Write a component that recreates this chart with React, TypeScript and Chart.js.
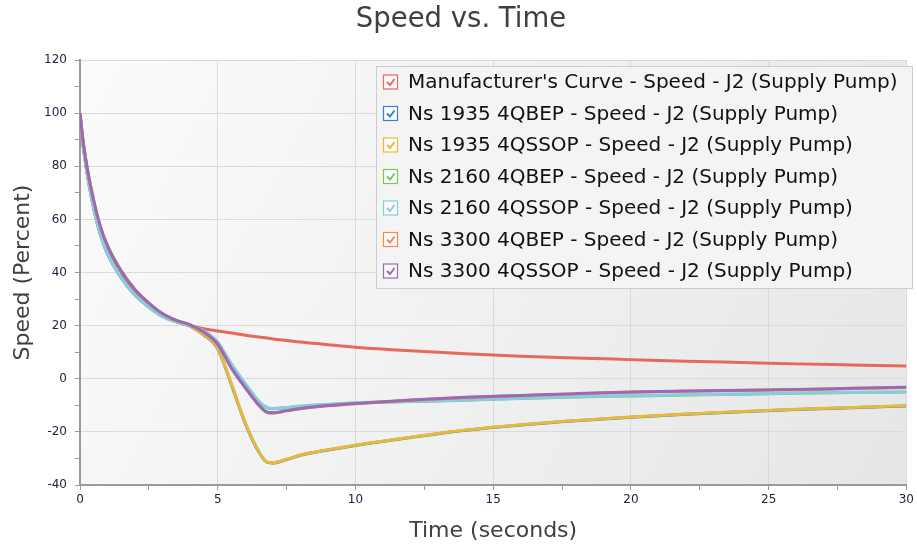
import React, { useEffect, useRef } from 'react';
import { Chart, registerables } from 'chart.js';

Chart.register(...registerables);

const times = [0, 0.1, 0.25, 0.5, 0.75, 1, 1.5, 2, 2.5, 3, 3.5, 4, 4.5, 5, 5.5, 6, 6.5, 6.8, 7, 7.5, 8, 9, 10, 12, 14, 16, 18, 20, 22, 24, 26, 28, 30];

const manufacturerCurve = [100, 90, 79.5, 65.5, 56, 48.5, 39, 32.5, 27.5, 24, 21.5, 20, 18.8, 18, 17.2, 16.4, 15.7, 15.3, 15, 14.4, 13.8, 12.8, 11.9, 10.5, 9.4, 8.5, 7.8, 7.2, 6.6, 6.1, 5.6, 5.2, 4.8];
const ns1935QBEP = [100, 89, 78, 64, 54, 47, 38, 31.5, 27, 23.5, 21.5, 19.8, 16.4, 11.3, -2.3, -16.8, -27.7, -31.5, -31.7, -30.4, -28.8, -26.8, -25.1, -22.1, -19.4, -17.4, -15.8, -14.5, -13.4, -12.4, -11.6, -10.9, -10.3];
const ns1935QSSOP = [100, 89, 78, 64, 54, 47, 38, 31.5, 27, 23.5, 21.5, 19.8, 16.5, 11.5, -2, -16.5, -27.5, -31.4, -31.6, -30.3, -28.7, -26.7, -25, -22, -19.3, -17.3, -15.7, -14.4, -13.3, -12.3, -11.5, -10.8, -10.2];
const ns2160QBEP = [100, 89, 78, 64, 54, 47, 38, 31.5, 27, 23.5, 21.5, 20, 18, 13.7, 5.3, -2, -8.7, -11, -11.3, -10.9, -10.4, -9.7, -9.1, -8.6, -8.1, -7.4, -6.9, -6.5, -6.1, -5.8, -5.5, -5.2, -5];
const ns2160QSSOP = [100, 89, 78, 64, 54, 47, 38, 31.5, 27, 23.5, 21.5, 20, 18, 13.8, 5.5, -1.8, -8.5, -10.9, -11.2, -10.8, -10.3, -9.6, -9, -8.5, -8, -7.3, -6.8, -6.4, -6, -5.7, -5.4, -5.1, -4.9];
const ns3300QBEP = [100, 90.5, 80, 67, 57, 50, 40.5, 33.5, 28.5, 24.5, 22, 20.3, 17.5, 12.9, 3.9, -3.4, -10.1, -12.7, -12.9, -12.1, -11.3, -10.2, -9.4, -8.1, -7.1, -6.4, -5.7, -5.1, -4.7, -4.4, -4.1, -3.7, -3.3];
const ns3300QSSOP = [100, 90.5, 80, 67, 57, 50, 40.5, 33.5, 28.5, 24.5, 22, 20.3, 17.5, 13, 4, -3.3, -10, -12.6, -12.8, -12, -11.2, -10.1, -9.3, -8, -7, -6.3, -5.6, -5, -4.6, -4.3, -4, -3.6, -3.2];

const seriesLabels = [
  "Manufacturer's Curve - Speed - J2 (Supply Pump)",
  'Ns 1935 4QBEP - Speed - J2 (Supply Pump)',
  'Ns 1935 4QSSOP - Speed - J2 (Supply Pump)',
  'Ns 2160 4QBEP - Speed - J2 (Supply Pump)',
  'Ns 2160 4QSSOP - Speed - J2 (Supply Pump)',
  'Ns 3300 4QBEP - Speed - J2 (Supply Pump)',
  'Ns 3300 4QSSOP - Speed - J2 (Supply Pump)',
];
const seriesColors = ['#e8685a', '#3b82c4', '#e8b93a', '#7cc45c', '#86cce6', '#f08a4e', '#9a6bb5'];

const titleText = 'Speed vs. Time';
const xTitle = 'Time (seconds)';
const yTitle = 'Speed (Percent)';

const FONT = "'DejaVu Sans', Tahoma, sans-serif";

export default function App() {
  const ref = useRef<HTMLCanvasElement>(null);

  useEffect(() => {
    if (!ref.current) return;
    const seriesData = [manufacturerCurve, ns1935QBEP, ns1935QSSOP, ns2160QBEP, ns2160QSSOP, ns3300QBEP, ns3300QSSOP];
    const datasets = seriesData.map((vals, i) => ({
      label: seriesLabels[i],
      data: times.map((t, j) => ({ x: t, y: vals[j] })),
      borderColor: seriesColors[i],
      backgroundColor: seriesColors[i],
      borderWidth: 3,
      pointRadius: 0,
      cubicInterpolationMode: 'monotone' as const,
      borderJoinStyle: 'round' as const,
      order: seriesData.length - i,
      fill: false,
    }));

    const bgPlugin = {
      id: 'plotBg',
      beforeDraw(chart: any) {
        const { ctx, chartArea: a, width, height } = chart;
        ctx.save();
        ctx.fillStyle = '#ffffff';
        ctx.fillRect(0, 0, width, height);
        const g = ctx.createLinearGradient(a.left, a.top, a.right, a.bottom);
        g.addColorStop(0, '#fbfbfb');
        g.addColorStop(1, '#e6e6e6');
        ctx.fillStyle = g;
        ctx.fillRect(a.left, a.top, a.right - a.left, a.bottom - a.top);
        ctx.restore();
      },
    };

    const titlePlugin = {
      id: 'centerTitle',
      afterDraw(chart: any) {
        const { ctx } = chart;
        ctx.save();
        ctx.font = `27.5px ${FONT}`;
        ctx.fillStyle = '#404040';
        ctx.textAlign = 'center';
        ctx.textBaseline = 'middle';
        ctx.fillText(titleText, 461, 20);
        ctx.restore();
      },
    };

    const legendPlugin = {
      id: 'boxLegend',
      afterDraw(chart: any) {
        const { ctx } = chart;
        const bx = 376.5, by = 66.5, bw = 536, bh = 222;
        ctx.save();
        ctx.fillStyle = '#f4f4f4';
        ctx.fillRect(bx, by, bw, bh);
        ctx.strokeStyle = '#cccccc';
        ctx.lineWidth = 1;
        ctx.strokeRect(bx, by, bw, bh);
        const rowH = 31.5;
        ctx.font = `20px ${FONT}`;
        ctx.textBaseline = 'middle';
        ctx.textAlign = 'left';
        seriesLabels.forEach((lab, i) => {
          const cy = 82 + i * rowH;
          const c = seriesColors[i];
          ctx.fillStyle = '#fafafa';
          ctx.fillRect(383.5, cy - 7, 14, 14);
          ctx.strokeStyle = c;
          ctx.lineWidth = 1.2;
          ctx.strokeRect(383.5, cy - 7, 14, 14);
          ctx.beginPath();
          ctx.moveTo(387, cy);
          ctx.lineTo(390, cy + 3);
          ctx.lineTo(394.5, cy - 3);
          ctx.lineWidth = 2;
          ctx.stroke();
          ctx.fillStyle = '#111111';
          ctx.fillText(lab, 408, cy + 1);
        });
        ctx.restore();
      },
    };

    const chart = new Chart(ref.current, {
      type: 'line',
      data: { datasets },
      options: {
        animation: false,
        responsive: false,
        layout: { padding: { left: 0, right: 10, top: 60, bottom: 0 } },
        plugins: {
          legend: { display: false },
          tooltip: { enabled: false },
          title: { display: false },
        },
        scales: {
          x: {
            type: 'linear',
            min: 0,
            max: 30,
            afterFit(scale: any) {
              scale.height = 65;
            },
            ticks: {
              stepSize: 2.5,
              autoSkip: false,
              maxRotation: 0,
              padding: 3,
              color: '#222244',
              font: { family: FONT, size: 12 },
              callback: (v: any) => (Number(v) % 5 === 0 ? String(v) : ''),
            },
            grid: {
              color: (c: any) => (c.tick && c.tick.value % 5 === 0 ? '#dadada' : 'rgba(0,0,0,0)'),
              tickColor: '#9a9a9a',
              tickLength: 5,
              lineWidth: 1,
            },
            border: { display: true, color: '#9a9a9a', width: 2 },
            title: {
              display: true,
              text: xTitle,
              color: '#404040',
              font: { family: FONT, size: 22 },
              padding: { top: 0, bottom: 6 },
            },
          },
          y: {
            type: 'linear',
            min: -40,
            max: 120,
            afterFit(scale: any) {
              scale.width = 80;
            },
            ticks: {
              stepSize: 10,
              autoSkip: false,
              padding: 8,
              color: '#222244',
              font: { family: FONT, size: 12 },
              callback: (v: any) => (Number(v) % 20 === 0 ? String(v) : ''),
            },
            grid: {
              color: (c: any) => (c.tick && c.tick.value % 20 === 0 ? '#dadada' : 'rgba(0,0,0,0)'),
              tickColor: '#9a9a9a',
              tickLength: 5,
              lineWidth: 1,
            },
            border: { display: true, color: '#9a9a9a', width: 2 },
            title: {
              display: true,
              text: yTitle,
              color: '#404040',
              font: { family: FONT, size: 22 },
              padding: { top: 10, bottom: 0 },
            },
          },
        },
      },
      plugins: [bgPlugin, titlePlugin, legendPlugin],
    } as any);

    return () => chart.destroy();
  }, []);

  return (
    <div style={{ position: 'absolute', left: 0, top: 0, width: 917, height: 550, background: '#ffffff' }}>
      <canvas ref={ref} width={917} height={550} style={{ display: 'block', width: 917, height: 550 }} />
    </div>
  );
}
